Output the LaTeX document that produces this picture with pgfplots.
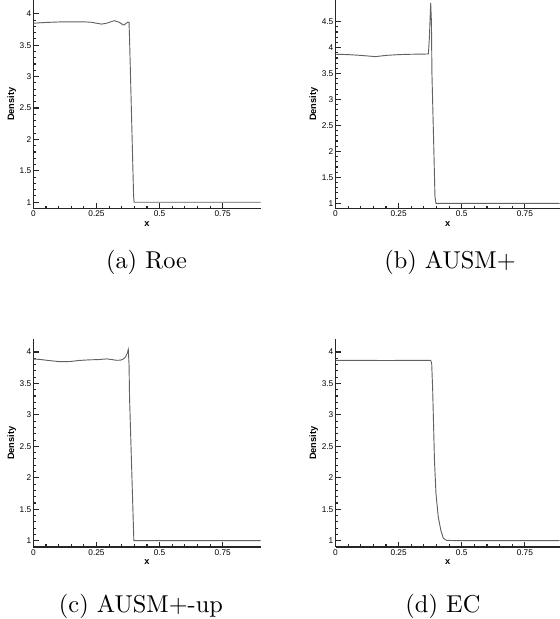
\documentclass[border=0pt]{standalone}
\usepackage{fontspec}
\usepackage{pgfplots}
\pgfplotsset{compat=1.18}
\newfontfamily\arialf{Liberation Sans}
\pgfplotsset{tecstyle/.style={
  axis x line*=bottom, axis y line*=left,
  axis line style={line width=0.5pt, black!85, -},
  x=103.48pt, xmin=0,
  tick align=inside, major tick length=2.1pt, minor tick length=1.2pt,
  every tick/.style={black!85, line width=0.45pt},
  minor x tick num=4, minor y tick num=4,
  xtick={0,0.25,0.5,0.75}, xticklabels={0,0.25,0.5,0.75},
  tick label style={font=\arialf\fontsize{3.4}{3.8}\selectfont},
  xticklabel style={inner sep=0.9pt},
  yticklabel style={inner sep=0.7pt},
  label style={font=\arialf\bfseries\fontsize{3.8}{4.3}\selectfont, inner sep=0.6pt},
  xlabel={x}, ylabel={Density},
}, dline/.style={color=black!62, line width=0.38pt, mark=none}}
\begin{document}
\begin{tikzpicture}
\useasboundingbox (0pt,0pt) rectangle (229.6pt,253.79pt);
% (a) Roe
\begin{axis}[tecstyle, at={(13.69pt,168.3pt)}, anchor=south west,
  xmax=0.9, ymin=0.9, ymax=4.22, y=25.75pt,
  ytick={1,1.5,2,2.5,3,3.5,4}, yticklabels={1,1.5,2,2.5,3,3.5,4}]
\addplot[dline] coordinates {(0,3.850) (0.02,3.855) (0.05,3.862) (0.10,3.870) (0.15,3.872) (0.20,3.872) (0.23,3.865) (0.25,3.850) (0.27,3.836) (0.29,3.850) (0.32,3.890) (0.34,3.865) (0.355,3.825) (0.36,3.823) (0.368,3.850) (0.375,3.868) (0.379,3.86) (0.381,3.6) (0.39,2.2) (0.397,1.1) (0.399,1.0) (0.9,1.0)};
\end{axis}
% (b) AUSM+
\begin{axis}[tecstyle, at={(137.56pt,168.3pt)}, anchor=south west,
  xmax=0.888, ymin=0.9, ymax=4.92, y=21.28pt,
  ytick={1,1.5,2,2.5,3,3.5,4,4.5}, yticklabels={1,1.5,2,2.5,3,3.5,4,4.5}]
\addplot[dline] coordinates {(0,3.872) (0.05,3.865) (0.10,3.850) (0.158,3.826) (0.20,3.850) (0.25,3.865) (0.30,3.872) (0.35,3.875) (0.368,3.878) (0.372,4.2) (0.377,4.86) (0.380,4.5) (0.382,3.5) (0.388,2.35) (0.394,1.13) (0.398,1.0) (0.888,1.0)};
\end{axis}
% (c) AUSM+-up
\begin{axis}[tecstyle, at={(13.69pt,29.52pt)}, anchor=south west,
  xmax=0.9, ymin=0.9, ymax=4.2, y=25.79pt,
  ytick={1,1.5,2,2.5,3,3.5,4}, yticklabels={1,1.5,2,2.5,3,3.5,4}]
\addplot[dline] coordinates {(0,3.889) (0.03,3.88) (0.06,3.865) (0.10,3.848) (0.125,3.846) (0.15,3.85) (0.18,3.865) (0.22,3.875) (0.26,3.88) (0.29,3.89) (0.31,3.88) (0.33,3.868) (0.345,3.87) (0.355,3.885) (0.365,3.92) (0.372,3.98) (0.376,4.04) (0.379,3.8) (0.381,3.27) (0.398,1.0) (0.9,1.0)};
\end{axis}
% (d) EC
\begin{axis}[tecstyle, at={(137.56pt,29.52pt)}, anchor=south west,
  xmax=0.888, ymin=0.9, ymax=4.2, y=25.79pt,
  ytick={1,1.5,2,2.5,3,3.5,4}, yticklabels={1,1.5,2,2.5,3,3.5,4}]
\addplot[dline] coordinates {(0,3.868) (0.1,3.866) (0.2,3.865) (0.3,3.866) (0.37,3.868) (0.377,3.868) (0.381,3.82) (0.385,3.39) (0.392,2.28) (0.398,1.75) (0.407,1.38) (0.417,1.17) (0.427,1.04) (0.44,1.005) (0.5,1.0) (0.888,1.0)};
\end{axis}
\node[anchor=base] at (60.07pt,143.7pt) {(a) Roe};
\node[anchor=base] at (184.5pt,143.7pt) {(b) AUSM+};
\node[anchor=base] at (57.8pt,2.87pt) {(c) AUSM+-up};
\node[anchor=base] at (181.6pt,2.87pt) {(d) EC};
\end{tikzpicture}
\end{document}
